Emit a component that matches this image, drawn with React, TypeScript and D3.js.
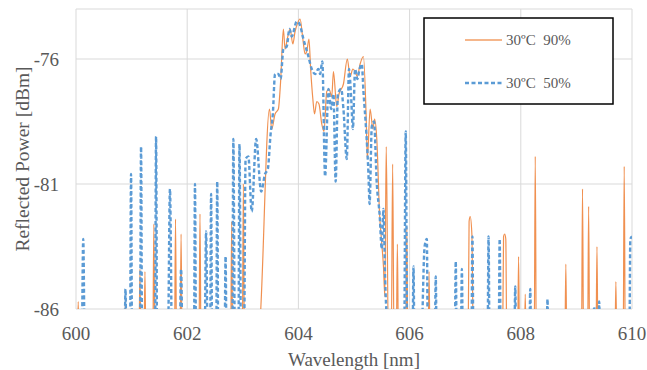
import { useEffect, useRef } from "react";
import * as d3 from "d3";

// wavelength [nm], reflected power [dBm]; values under -86 fall off the plot
const series90: [number, number][] = [
  [600.0, -88], [600.02, -88], [600.04, -85.7], [600.06, -88],
  [600.87, -88], [600.89, -85.6], [600.91, -88],
  [601.13, -88], [601.15, -84.4], [601.17, -88],
  [601.22, -88], [601.24, -84.5], [601.26, -88],
  [601.38, -88], [601.4, -82.6], [601.42, -88],
  [601.77, -88], [601.79, -82.4], [601.81, -88],
  [601.87, -88], [601.89, -83.0], [601.91, -88],
  [602.21, -88], [602.23, -82.2], [602.25, -88],
  [602.78, -88], [602.8, -82.5], [602.82, -88],
  [602.99, -88], [603.01, -81.0], [603.03, -88],
  [603.29, -87], [603.48, -78.0], [603.52, -78.8], [603.58, -78.2], [603.64, -78.0],
  [603.68, -76.9], [603.73, -74.8], [603.76, -75.6], [603.8, -75.2], [603.85, -74.8],
  [603.9, -75.4], [603.94, -74.9], [603.98, -74.6], [604.03, -74.4], [604.08, -75.2],
  [604.12, -75.8], [604.15, -75.7], [604.19, -75.2], [604.22, -76.4], [604.26, -77.6],
  [604.29, -78.2], [604.33, -77.7], [604.37, -77.8], [604.42, -78.6], [604.46, -78.9],
  [604.51, -77.3], [604.55, -77.2], [604.6, -77.5], [604.63, -76.5], [604.69, -77.9],
  [604.73, -77.4], [604.81, -77.0], [604.88, -76.0], [604.93, -76.7], [604.98, -76.4],
  [605.02, -76.5], [605.06, -76.7], [605.11, -76.2], [605.17, -75.9], [605.22, -78.4],
  [605.24, -80.0], [605.29, -78.0], [605.34, -78.8], [605.37, -78.4], [605.41, -79.2],
  [605.46, -82.2], [605.5, -83.4], [605.53, -84.3], [605.555, -85.5], [605.58, -79.5],
  [605.62, -87.5], [605.67, -87.5], [605.695, -80.2], [605.72, -87.5], [605.76, -87.5],
  [605.78, -83.4], [605.8, -87.5],
  [605.93, -88], [605.95, -82.7], [605.97, -88],
  [606.33, -88], [606.35, -84.5], [606.37, -88],
  [607.05, -88], [607.07, -82.5], [607.09, -82.3], [607.12, -83.0], [607.15, -88],
  [607.31, -88], [607.33, -86.0], [607.35, -88],
  [607.67, -88], [607.69, -83.1], [607.71, -83.0], [607.73, -83.2], [607.75, -88],
  [607.94, -88], [607.96, -83.9], [607.98, -88],
  [608.06, -88], [608.08, -85.4], [608.1, -88],
  [608.24, -88], [608.26, -79.9], [608.28, -88],
  [608.79, -88], [608.81, -84.2], [608.83, -88],
  [609.09, -88], [609.11, -81.2], [609.13, -88],
  [609.2, -88], [609.22, -81.9], [609.24, -88],
  [609.35, -88], [609.37, -83.5], [609.39, -88],
  [609.69, -88], [609.71, -84.9], [609.73, -88],
  [609.84, -88], [609.86, -80.3], [609.88, -88],
  [610.0, -88],
];

const series50: [number, number][] = [
  [600.0, -88], [600.1, -88], [600.13, -83.2], [600.16, -88],
  [600.87, -88], [600.89, -85.2], [600.91, -88],
  [600.97, -88], [600.99, -80.6], [601.01, -88],
  [601.15, -88], [601.17, -79.5], [601.19, -88],
  [601.42, -88], [601.44, -79.1], [601.46, -88],
  [601.65, -88], [601.69, -81.2], [601.73, -88],
  [601.86, -88], [601.89, -84.4], [601.92, -88],
  [602.12, -88], [602.14, -81.0], [602.16, -88],
  [602.31, -88], [602.34, -82.9], [602.37, -88],
  [602.41, -88], [602.43, -81.4], [602.45, -88],
  [602.52, -88], [602.54, -80.9], [602.56, -88],
  [602.67, -88], [602.69, -83.9], [602.71, -88],
  [602.81, -88], [602.83, -79.2], [602.86, -88],
  [602.92, -88], [602.94, -79.4], [602.97, -88],
  [603.02, -88], [603.05, -80.0], [603.1, -79.9], [603.16, -82.1], [603.24, -79.2],
  [603.33, -81.3], [603.4, -80.6], [603.45, -80.4], [603.5, -79.0], [603.54, -78.2],
  [603.58, -76.6], [603.64, -76.6], [603.68, -76.8], [603.73, -75.6], [603.79, -75.5],
  [603.84, -74.8], [603.88, -75.1], [603.97, -74.5], [604.02, -74.6], [604.09, -75.2],
  [604.18, -75.9], [604.24, -76.4], [604.3, -76.6], [604.36, -76.4], [604.39, -76.6],
  [604.43, -76.1], [604.48, -80.7], [604.54, -77.2], [604.59, -78.0], [604.63, -77.4],
  [604.67, -80.9], [604.71, -77.4], [604.77, -77.2], [604.81, -78.0], [604.87, -80.0],
  [604.91, -76.4], [604.95, -77.6], [604.98, -78.8], [605.02, -76.4], [605.06, -76.8],
  [605.1, -76.4], [605.14, -76.2], [605.17, -77.3], [605.22, -78.9], [605.26, -80.6],
  [605.28, -81.8], [605.32, -78.7], [605.36, -78.5], [605.41, -81.0], [605.46, -82.2],
  [605.5, -83.6], [605.53, -82.0], [605.56, -84.8], [605.59, -86.5], [605.62, -88],
  [605.9, -88], [605.93, -78.9], [605.96, -88],
  [606.05, -88], [606.07, -84.3], [606.09, -88],
  [606.2, -88], [606.27, -83.5], [606.31, -83.2], [606.33, -88],
  [606.45, -88], [606.47, -84.7], [606.49, -88],
  [606.81, -88], [606.83, -84.1], [606.85, -88],
  [606.92, -88], [606.94, -84.4], [606.96, -88],
  [607.11, -88], [607.13, -83.1], [607.15, -88],
  [607.4, -88], [607.42, -83.1], [607.44, -88],
  [607.6, -88], [607.62, -83.2], [607.64, -88],
  [607.88, -88], [607.9, -85.1], [607.92, -88],
  [608.15, -88], [608.17, -85.2], [608.19, -88],
  [608.46, -88], [608.48, -85.6], [608.5, -88],
  [609.3, -88], [609.32, -85.9], [609.34, -88],
  [609.39, -88], [609.41, -85.7], [609.43, -88],
  [609.95, -88], [609.97, -83.2], [610.0, -83.1],
];

const xTicks = [600, 602, 604, 606, 608, 610];
const yTicks = [-86, -81, -76];
const legendLabels = ["30ºC  90%", "30ºC  50%"];

const App = () => {
  const svgRef = useRef<SVGSVGElement | null>(null);
  const W = 647;
  const H = 370;
  const plot = { left: 76, right: 632, top: 9, bottom: 309 };

  useEffect(() => {
    if (!svgRef.current) return;
    const svg = d3.select(svgRef.current);
    svg.selectAll("*").remove();

    const font = "'Liberation Serif', 'Times New Roman', serif";
    const textColor = "#595959";

    const xScale = d3.scaleLinear().domain([600, 610]).range([plot.left, plot.right]);
    const yScale = d3.scaleLinear().domain([-86, -74]).range([plot.bottom, plot.top]);

    svg
      .append("defs")
      .append("clipPath")
      .attr("id", "plotClip")
      .append("rect")
      .attr("x", plot.left)
      .attr("y", plot.top - 2)
      .attr("width", plot.right - plot.left)
      .attr("height", plot.bottom - plot.top + 2);

    // gridlines
    const grid = svg.append("g").attr("stroke", "#d9d9d9").attr("stroke-width", 1);
    xTicks.forEach((t) => {
      grid
        .append("line")
        .attr("x1", xScale(t))
        .attr("x2", xScale(t))
        .attr("y1", plot.top)
        .attr("y2", plot.bottom);
    });
    [...yTicks, -74].forEach((t) => {
      grid
        .append("line")
        .attr("x1", plot.left)
        .attr("x2", plot.right)
        .attr("y1", yScale(t))
        .attr("y2", yScale(t));
    });

    // tick labels
    svg
      .append("g")
      .selectAll("text")
      .data(yTicks)
      .join("text")
      .attr("x", 59)
      .attr("y", (d) => yScale(d) + 7)
      .attr("text-anchor", "end")
      .attr("font-family", font)
      .attr("font-size", 19)
      .attr("fill", textColor)
      .text((d) => d);

    svg
      .append("g")
      .selectAll("text")
      .data(xTicks)
      .join("text")
      .attr("x", (d) => xScale(d))
      .attr("y", 340)
      .attr("text-anchor", "middle")
      .attr("font-family", font)
      .attr("font-size", 19)
      .attr("fill", textColor)
      .text((d) => d);

    // axis titles
    svg
      .append("text")
      .attr("transform", `translate(29,${(plot.top + plot.bottom) / 2}) rotate(-90)`)
      .attr("text-anchor", "middle")
      .attr("font-family", font)
      .attr("font-size", 19.5)
      .attr("fill", textColor)
      .text("Reflected Power [dBm]");

    svg
      .append("text")
      .attr("x", (plot.left + plot.right) / 2)
      .attr("y", 366)
      .attr("text-anchor", "middle")
      .attr("font-family", font)
      .attr("font-size", 19)
      .attr("fill", textColor)
      .text("Wavelength [nm]");

    const lineGenerator = d3
      .line<[number, number]>()
      .x((d) => xScale(d[0]))
      .y((d) => yScale(d[1]))
      .curve(d3.curveMonotoneX);

    const lines = svg.append("g").attr("clip-path", "url(#plotClip)");
    lines
      .append("path")
      .attr("d", lineGenerator(series90))
      .attr("fill", "none")
      .attr("stroke", "#ED7D31")
      .attr("stroke-opacity", 0.85)
      .attr("stroke-width", 1.2);
    lines
      .append("path")
      .attr("d", lineGenerator(series50))
      .attr("fill", "none")
      .attr("stroke", "#5B9BD5")
      .attr("stroke-width", 2.4)
      .attr("stroke-dasharray", "4,2.5");

    // legend
    const legend = svg.append("g");
    legend
      .append("rect")
      .attr("x", 424)
      .attr("y", 18)
      .attr("width", 189)
      .attr("height", 86)
      .attr("fill", "white")
      .attr("stroke", "#000")
      .attr("stroke-width", 1.5);
    const legendStyles = [
      { color: "#ED7D31", width: 1.5, dash: null, opacity: 0.75 },
      { color: "#5B9BD5", width: 2.4, dash: "4,2.5", opacity: 1 },
    ];
    legendLabels.forEach((label, i) => {
      const y = 40 + i * 43;
      const s = legendStyles[i];
      const l = legend
        .append("line")
        .attr("x1", 465)
        .attr("x2", 502)
        .attr("y1", y)
        .attr("y2", y)
        .attr("stroke", s.color)
        .attr("stroke-opacity", s.opacity)
        .attr("stroke-width", s.width);
      if (s.dash) l.attr("stroke-dasharray", s.dash);
      legend
        .append("text")
        .attr("x", 506)
        .attr("y", y + 5)
        .attr("font-family", font)
        .attr("font-size", 15)
        .attr("fill", textColor)
        .style("white-space", "pre")
        .text(label);
    });
  }, []);

  return (
    <div style={{ position: "absolute", left: 0, top: 0 }}>
      <svg ref={svgRef} width={W} height={H} style={{ display: "block", background: "#fff" }} />
    </div>
  );
};

export default App;
